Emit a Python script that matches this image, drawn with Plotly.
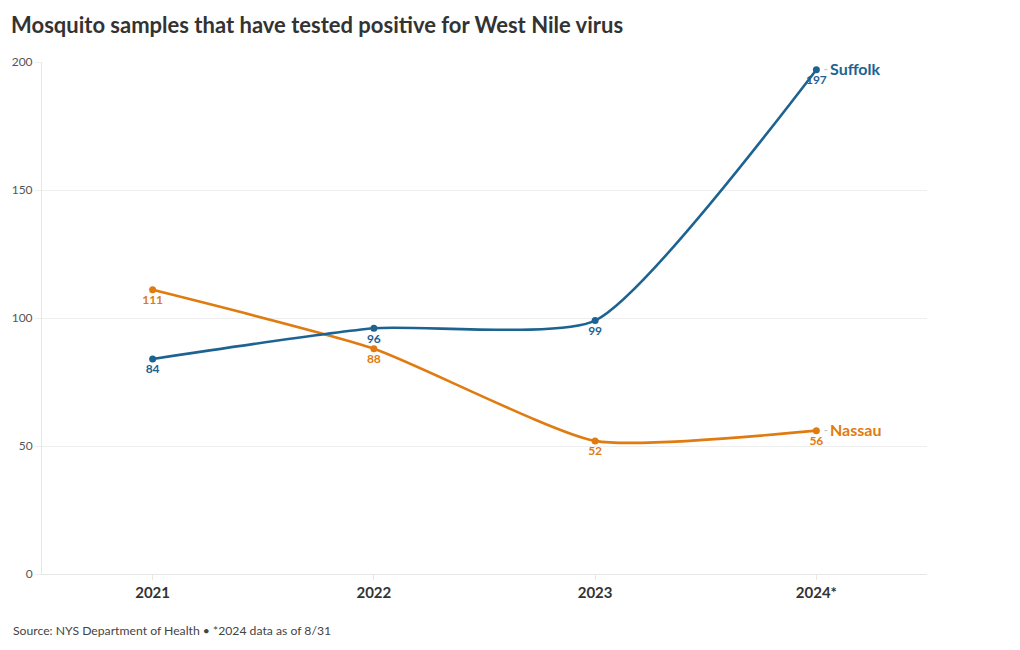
import plotly.graph_objects as go

years = ["2021", "2022", "2023", "2024*"]
suffolk = [84, 96, 99, 197]
nassau = [111, 88, 52, 56]
y_ticks = [0, 50, 100, 150, 200]

BLUE = "#1d6391"
ORANGE = "#e07b10"
FONT = "Lato"

xs = list(range(len(years)))
fig = go.Figure()

for name, vals, col in [("Nassau", nassau, ORANGE), ("Suffolk", suffolk, BLUE)]:
    fig.add_trace(go.Scatter(
        x=xs, y=vals, mode="lines+markers+text", name=name,
        line=dict(color=col, width=2.6, shape="spline", smoothing=0.55),
        marker=dict(size=7, color=col),
        text=[str(v) for v in vals], textposition="bottom center",
        textfont=dict(family=FONT, size=12, color=col, weight="bold"),
        cliponaxis=False, hoverinfo="skip",
    ))
    # small connector dash between the last point and the series label
    fig.add_shape(type="line", xref="x", yref="y",
                  xsizemode="pixel", xanchor=xs[-1], x0=8, x1=11,
                  ysizemode="pixel", yanchor=vals[-1], y0=0, y1=0,
                  line=dict(color="#bbbbbb", width=1))
    fig.add_annotation(x=xs[-1], y=vals[-1], xref="x", yref="y",
                       text=f"<b>{name}</b>", showarrow=False, xanchor="left", xshift=12, yshift=1,
                       font=dict(family=FONT, size=16, color=col))

fig.update_layout(
    width=1020, height=650,
    margin=dict(l=34, r=101, t=54, b=84),
    paper_bgcolor="white", plot_bgcolor="white",
    showlegend=False,
    title=dict(text="<b>Mosquito samples that have tested positive for West Nile virus</b>",
               x=0.003, xanchor="left", y=0.974, yanchor="middle",
               font=dict(family=FONT, size=22, color="#333333")),
    xaxis=dict(range=[-0.5, 3.5], tickmode="array", tickvals=xs, ticktext=years,
               showgrid=False, showline=True, linecolor="#e6e6e6", linewidth=1,
               ticks="outside", ticklen=5, tickcolor="#e6e6e6",
               tickfont=dict(family=FONT, size=15, color="#333333", weight="bold"),
               zeroline=False, fixedrange=True, automargin=False),
    yaxis=dict(range=[0, 200], tickmode="array", tickvals=y_ticks,
               showgrid=True, gridcolor="#eeeeee", gridwidth=1,
               showline=True, linecolor="#e6e6e6", linewidth=1,
               ticks="outside", ticklen=6, tickcolor="#eeeeee",
               tickfont=dict(family=FONT, size=12, color="#555555"),
               zeroline=False, fixedrange=True, automargin=False),
)

fig.add_annotation(text="Source: NYS Department of Health • *2024 data as of 8/31",
                   xref="paper", yref="paper", x=-0.035, y=-0.111, xanchor="left", yanchor="middle",
                   showarrow=False, font=dict(family=FONT, size=12.2, color="#444444"))

fig.write_html("out.html")
